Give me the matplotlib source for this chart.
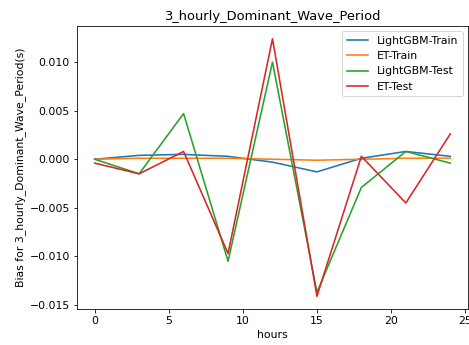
import matplotlib
matplotlib.use("Agg")
import matplotlib.pyplot as plt

hours = [0, 3, 6, 9, 12, 15, 18, 21, 24]
lgbm_train = [0.0, 0.0004, 0.0005, 0.0003, -0.0003, -0.0013, 0.0001, 0.0008, 0.0003]
et_train = [0.0, 0.0001, 0.0001, 0.0001, 0.0, -0.0001, 0.0, 0.0001, 0.0001]
lgbm_test = [0.0, -0.0015, 0.0047, -0.0105, 0.0100, -0.0137, -0.0029, 0.0008, -0.0004]
et_test = [-0.0004, -0.0015, 0.0008, -0.0097, 0.0124, -0.0141, 0.0003, -0.0045, 0.0026]

# the reference was drawn a bit larger than 72 dpi, so scale text and lines up
plt.rcParams["font.size"] = 10.85
plt.rcParams["lines.linewidth"] = 1.6

fig = plt.figure(figsize=(469 / 72, 345 / 72), dpi=72)
ax = fig.add_axes([0.164, 0.104, 0.834, 0.821])
ax.plot(hours, lgbm_train, label="LightGBM-Train")
ax.plot(hours, et_train, label="ET-Train")
ax.plot(hours, lgbm_test, label="LightGBM-Test")
ax.plot(hours, et_test, label="ET-Test")
ax.set_title("3_hourly_Dominant_Wave_Period")
ax.set_xlabel("hours")
ax.set_ylabel("Bias for 3_hourly_Dominant_Wave_Period(s)")
ax.legend(loc="upper right")
fig.savefig("out.png", dpi=72)
